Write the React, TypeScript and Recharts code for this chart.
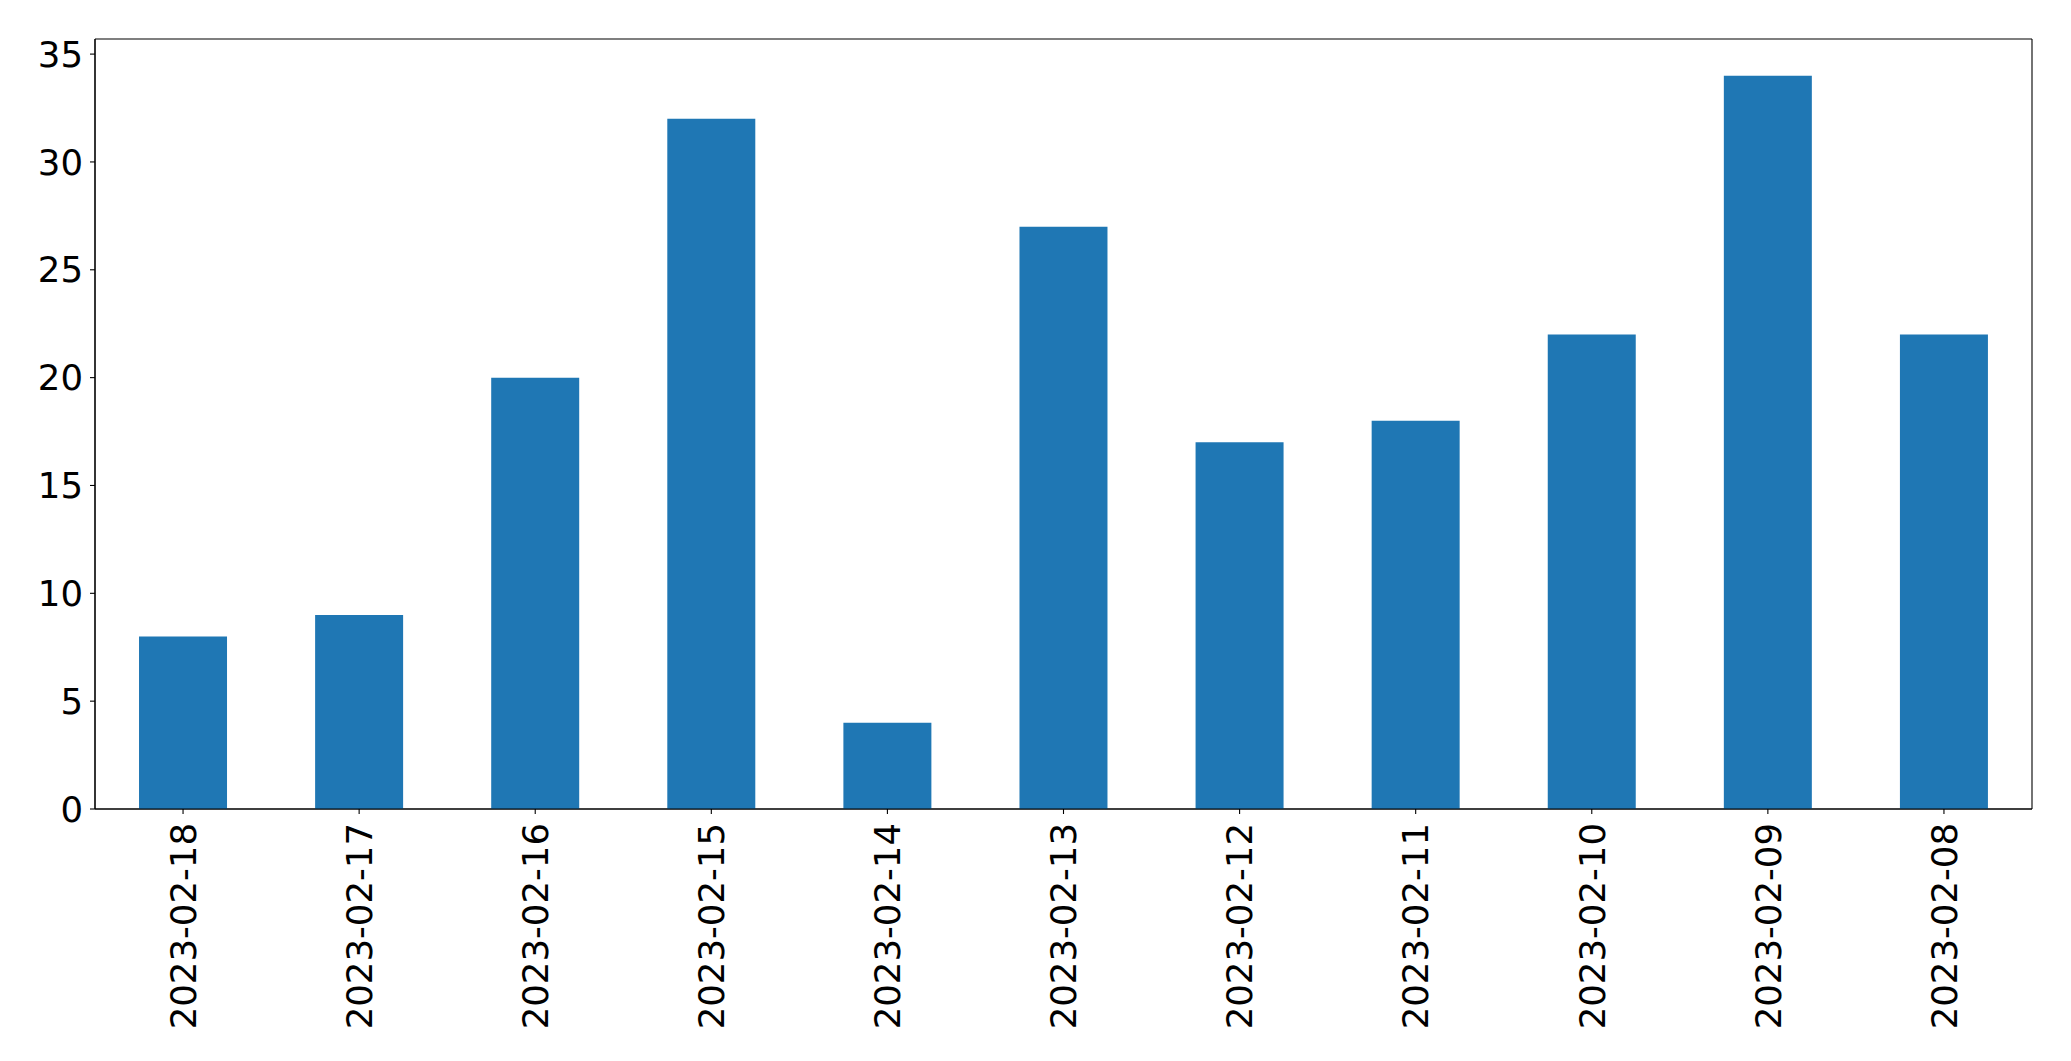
import { BarChart, Bar, XAxis, YAxis, CartesianGrid } from 'recharts';

const dates = [
  '2023-02-18', '2023-02-17', '2023-02-16', '2023-02-15', '2023-02-14', '2023-02-13',
  '2023-02-12', '2023-02-11', '2023-02-10', '2023-02-09', '2023-02-08',
];
const counts = [8, 9, 20, 32, 4, 27, 17, 18, 22, 34, 22];
const yTicks = [0, 5, 10, 15, 20, 25, 30, 35];

const data = dates.map((d, i) => ({ date: d, count: counts[i] }));

const FONT = '"DejaVu Sans", sans-serif';

function DateTick({ x, y, payload }: any) {
  return (
    <g transform={`translate(${x},${y})`}>
      <text
        transform="rotate(-90)"
        x={-9}
        y={0}
        dy="0.36em"
        textAnchor="end"
        fill="#000"
        fontSize={35.5}
        fontFamily={FONT}
      >
        {payload.value}
      </text>
    </g>
  );
}

// frame: draw lines only at the plot edges (matplotlib's four spines)
const frameH = ({ offset }: any) => [offset.top, offset.top + offset.height];
const frameV = ({ offset }: any) => [offset.left, offset.left + offset.width];

export default function App() {
  return (
    <div style={{ position: 'absolute', left: 0, top: 0, width: 2071, height: 1061, background: '#fff' }}>
      <BarChart
        width={2071}
        height={1061}
        data={data}
        margin={{ top: 39, right: 39, left: 0, bottom: 0 }}
        barCategoryGap="25%"
      >
        <CartesianGrid
          stroke="#000"
          strokeWidth={1.1}
          horizontalCoordinatesGenerator={frameH}
          verticalCoordinatesGenerator={frameV}
        />
        <XAxis
          dataKey="date"
          height={252}
          interval={0}
          tick={<DateTick />}
          tickSize={5}
          tickMargin={0}
          stroke="#000"
          strokeWidth={1.1}
        />
        <YAxis
          type="number"
          domain={[0, 35.7]}
          ticks={yTicks}
          width={95}
          tickSize={5}
          tickMargin={7}
          interval={0}
          stroke="#000"
          strokeWidth={1.1}
          tick={{ fill: '#000', fontSize: 35.5, fontFamily: FONT }}
        />
        <Bar dataKey="count" fill="#1f77b4" isAnimationActive={false} />
      </BarChart>
    </div>
  );
}
